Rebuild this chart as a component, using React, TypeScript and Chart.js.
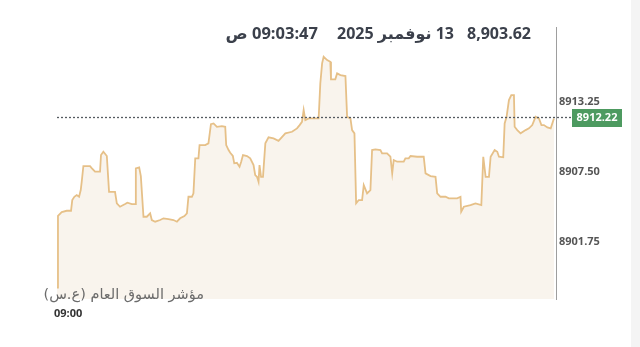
import React, { useEffect, useRef } from "react";
import { Chart, registerables } from "chart.js";

Chart.register(...registerables);

// minutes after 09:00
const minutes = [
  0, 0.7, 3.4, 7.0, 10.1, 11.0, 12.5, 14.2, 15.9, 17.1,
  17.8, 19.0, 23.8, 25.0, 27.4, 31.0, 31.7, 33.4, 35.9, 37.5,
  41.8, 43.1, 45.4, 49.1, 50.7, 53.9, 56.3, 56.8, 59.2, 60.4,
  62.3, 64.7, 67.1, 68.3, 70.7, 74.3, 76.7, 80.3, 83.9, 86.4,
  88.7, 91.8, 93.6, 94.7, 97.2, 98.3, 99.6, 101.9, 102.7, 106.8,
  109.1, 110.9, 112.8, 115.2, 118.8, 121.2, 121.9, 123.6, 124.8, 126.7,
  127.7, 129.6, 131.5, 132.7, 134.0, 136.9, 139.2, 141.6, 142.8, 144.1,
  145.2, 145.9, 147.0, 148.4, 150.1, 152.4, 156.0, 159.6, 164.5, 169.3,
  172.9, 174.8, 176.5, 177.7, 178.9, 181.3, 188.5, 189.7, 191.0, 192.1,
  194.6, 196.9, 197.4, 200.5, 201.8, 204.2, 207.8, 209.0, 211.4, 212.6,
  214.3, 215.5, 217.4, 219.8, 221.0, 223.4, 225.8, 227.0, 229.4, 233.0,
  234.2, 237.8, 240.2, 241.5, 242.6, 245.1, 249.8, 251.0, 253.4, 254.7,
  259.5, 264.2, 265.5, 269.1, 272.7, 273.9, 276.3, 279.9, 282.3, 288.3,
  290.7, 291.2, 293.1, 297.9, 301.5, 305.7, 307.1, 308.8, 311.2, 312.4,
  315.3, 317.2, 318.4, 321.5, 322.5, 323.9, 325.6, 327.3, 329.2, 329.7,
  331.6, 334.0, 337.6, 340.0, 342.4, 344.8, 347.2, 349.0, 350.8, 353.3,
  355.7, 358.0,
];

const values = [
  8898.2, 8904.11, 8904.41, 8904.52, 8904.52, 8905.4, 8905.67, 8905.81, 8905.67, 8906.22,
  8906.9, 8908.19, 8908.19, 8908.03, 8907.73, 8907.73, 8909.1, 8909.37, 8909.02, 8906.08,
  8906.08, 8905.13, 8904.85, 8905.07, 8905.18, 8905.07, 8905.07, 8908.0, 8908.09, 8907.37,
  8904.03, 8904.03, 8904.31, 8903.76, 8903.62, 8903.76, 8903.9, 8903.84, 8903.76, 8903.62,
  8903.9, 8904.09, 8904.31, 8905.67, 8905.67, 8905.95, 8908.83, 8908.83, 8909.92, 8909.92,
  8910.06, 8911.64, 8911.7, 8911.42, 8911.48, 8911.42, 8909.92, 8909.51, 8909.29, 8909.02,
  8908.42, 8908.46, 8908.14, 8908.55, 8909.1, 8909.02, 8908.83, 8908.28, 8907.45, 8907.31,
  8906.9, 8908.28, 8907.31, 8907.31, 8910.06, 8910.55, 8910.47, 8910.27, 8910.88, 8911.01,
  8911.29, 8911.56, 8911.83, 8912.8, 8911.97, 8912.11, 8912.11, 8914.99, 8916.63, 8917.17,
  8916.9, 8916.76, 8915.32, 8915.32, 8915.81, 8915.67, 8915.59, 8912.24, 8912.11, 8911.15,
  8910.88, 8905.13, 8905.4, 8905.4, 8906.63, 8905.95, 8906.22, 8909.51, 8909.57, 8909.51,
  8909.24, 8909.24, 8908.96, 8907.59, 8908.69, 8908.55, 8908.55, 8908.83, 8908.83, 8909.02,
  8908.96, 8908.96, 8907.59, 8907.37, 8907.31, 8905.95, 8905.67, 8905.67, 8905.54, 8905.54,
  8905.67, 8904.44, 8904.85, 8904.99, 8905.13, 8904.99, 8908.96, 8907.31, 8907.31, 8908.96,
  8909.51, 8909.37, 8908.96, 8908.91, 8911.7, 8912.24, 8913.62, 8914.03, 8914.03, 8911.42,
  8911.15, 8910.88, 8911.15, 8911.29, 8911.56, 8912.24, 8912.11, 8911.56, 8911.56, 8911.37,
  8911.29, 8912.1,
];

const yTickValues = [8901.75, 8907.5, 8913.25];
const xTickMinutes = [0];
const lastPrice = 8912.22;
const headerPrice = "8,903.62";
const headerDate = "13 نوفمبر 2025";
const headerTime = "09:03:47 ص";
const indexName = "مؤشر السوق العام (ع.س)";

const Y_MIN = 8897.27;
const Y_MAX = 8919.62;
const X_MAX = 359.5;

function fmtTime(m: number) {
  const total = 9 * 60 + m;
  const h = Math.floor(total / 60);
  const mm = Math.floor(total % 60);
  return String(h).padStart(2, "0") + ":" + String(mm).padStart(2, "0");
}

const priceLinePlugin = {
  id: "priceLine",
  afterDatasetsDraw(chart: any) {
    const { ctx, chartArea, scales } = chart;
    const y = Math.round(scales.y.getPixelForValue(lastPrice)) + 0.5;
    const badgeX = chartArea.right + 16;
    const badgeW = 50;
    const badgeH = 18;
    ctx.save();
    ctx.strokeStyle = "#555a60";
    ctx.lineWidth = 1.3;
    ctx.setLineDash([2, 2]);
    ctx.beginPath();
    ctx.moveTo(chartArea.left, y);
    ctx.lineTo(badgeX, y);
    ctx.stroke();
    ctx.setLineDash([]);
    ctx.fillStyle = "#4d9a60";
    ctx.fillRect(badgeX, Math.round(y - badgeH / 2), badgeW, badgeH);
    ctx.fillStyle = "#ffffff";
    ctx.font = "bold 11px 'Open Sans', 'DejaVu Sans', sans-serif";
    ctx.textAlign = "center";
    ctx.textBaseline = "middle";
    ctx.fillText(lastPrice.toFixed(2), badgeX + badgeW / 2, y + 0.5);
    ctx.restore();
  },
};

export default function App() {
  const canvasRef = useRef<HTMLCanvasElement | null>(null);

  useEffect(() => {
    if (!canvasRef.current) return;
    const points = minutes.map((m, i) => ({ x: m, y: values[i] }));
    const chart = new Chart(canvasRef.current, {
      type: "line",
      data: {
        datasets: [
          {
            data: points,
            borderColor: "#e6c088",
            backgroundColor: "#f9f4ed",
            borderWidth: 1.8,
            pointRadius: 0,
            tension: 0,
            fill: "start",
          },
        ],
      },
      options: {
        animation: false,
        responsive: false,
        devicePixelRatio: 1,
        layout: { padding: { left: 57, top: 27, right: 0, bottom: 0 } },
        plugins: {
          legend: { display: false },
          tooltip: { enabled: false },
        },
        scales: {
          x: {
            type: "linear",
            min: 0,
            max: X_MAX,
            grid: { display: false, drawTicks: false },
            border: { display: false },
            afterBuildTicks: (s: any) => {
              s.ticks = xTickMinutes.map((v) => ({ value: v }));
            },
            afterFit: (s: any) => {
              s.height = 48;
            },
            ticks: {
              align: "start",
              labelOffset: -3,
              padding: 8,
              maxRotation: 0,
              color: "#333333",
              font: { family: "'Open Sans', 'DejaVu Sans', sans-serif", size: 11, weight: "bold" },
              callback: (v: any) => fmtTime(Number(v)),
            },
          },
          y: {
            position: "right",
            min: Y_MIN,
            max: Y_MAX,
            grid: { display: false, drawTicks: false },
            border: { display: true, color: "#9e9e9e", width: 1 },
            afterBuildTicks: (s: any) => {
              s.ticks = yTickValues.map((v) => ({ value: v }));
            },
            afterFit: (s: any) => {
              s.width = 84;
            },
            ticks: {
              padding: 3,
              labelOffset: -3,
              color: "#555555",
              font: { family: "'Open Sans', 'DejaVu Sans', sans-serif", size: 11, weight: "bold" },
              callback: (v: any) => Number(v).toFixed(2),
            },
          },
        },
      },
      plugins: [priceLinePlugin],
    });
    return () => chart.destroy();
  }, []);

  const headerStyle: React.CSSProperties = {
    position: "absolute",
    top: 23,
    height: 20,
    lineHeight: "20px",
    fontFamily: "'Open Sans', 'DejaVu Sans', sans-serif",
    fontWeight: 700,
    fontSize: 16,
    color: "#3b404b",
    whiteSpace: "nowrap",
    direction: "rtl",
    unicodeBidi: "isolate",
  };

  return (
    <div style={{ position: "absolute", left: 0, top: 0, width: 640, height: 347, background: "#ffffff", overflow: "hidden" }}>
      <div style={{ position: "absolute", left: 631, top: 0, width: 9, height: 347, background: "#f4f4f4" }} />
      <canvas ref={canvasRef} width={640} height={347} style={{ position: "absolute", left: 0, top: 0, width: 640, height: 347 }} />
      <div style={{ ...headerStyle, right: 640 - 531 }}>{headerPrice}</div>
      <div style={{ ...headerStyle, right: 640 - 454 }}>{headerDate}</div>
      <div style={{ ...headerStyle, right: 640 - 318, fontSize: 16.5 }}>{headerTime}</div>
      <div
        style={{
          position: "absolute",
          right: 640 - 204,
          top: 284,
          height: 20,
          lineHeight: "20px",
          fontFamily: "'DejaVu Sans', sans-serif",
          fontSize: 14.5,
          color: "#6b6b6b",
          whiteSpace: "nowrap",
          direction: "rtl",
          unicodeBidi: "isolate",
        }}
      >
        {indexName}
      </div>
    </div>
  );
}
